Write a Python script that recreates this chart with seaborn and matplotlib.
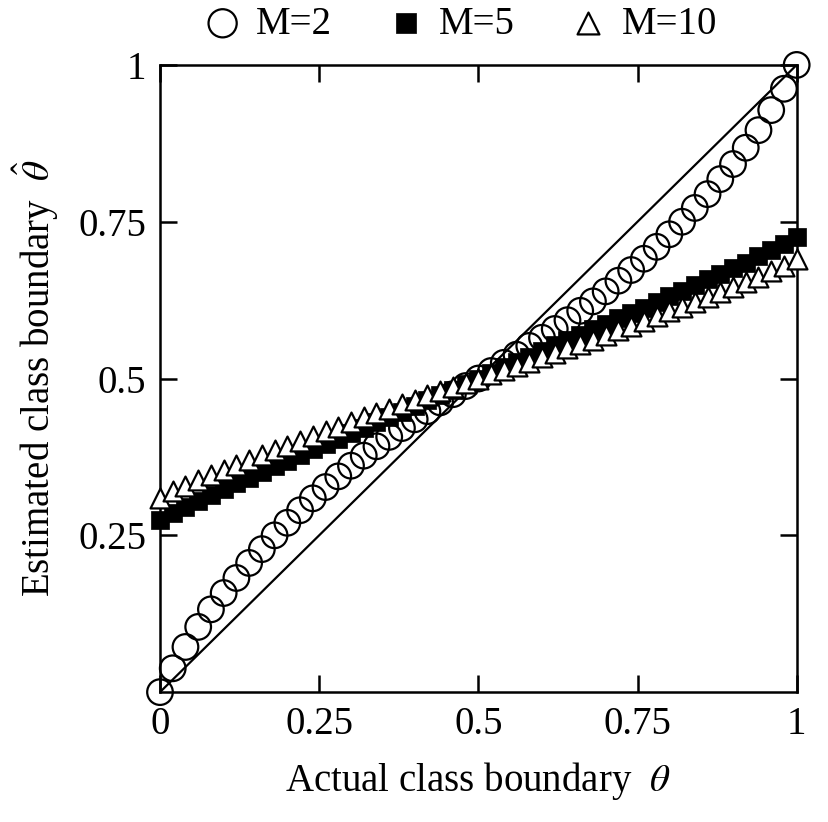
import numpy as np
import pandas as pd
import matplotlib
matplotlib.use("Agg")
import matplotlib.pyplot as plt
import seaborn as sns

# --- data ---
theta = [round(0.02 * i, 2) for i in range(51)]

est_m2 = [0.000, 0.038, 0.072, 0.104, 0.132, 0.158, 0.182, 0.206, 0.228, 0.250,
          0.270, 0.290, 0.309, 0.327, 0.344, 0.361, 0.377, 0.392, 0.407, 0.421,
          0.435, 0.448, 0.462, 0.475, 0.488, 0.500, 0.512, 0.525, 0.538, 0.552,
          0.565, 0.579, 0.593, 0.608, 0.623, 0.639, 0.656, 0.673, 0.691, 0.710,
          0.730, 0.750, 0.772, 0.794, 0.818, 0.842, 0.868, 0.896, 0.928, 0.962,
          1.000]

est_m5 = [0.274, 0.285, 0.295, 0.305, 0.315, 0.324, 0.333, 0.342, 0.351, 0.360,
          0.369, 0.378, 0.387, 0.395, 0.404, 0.413, 0.421, 0.430, 0.439, 0.447,
          0.456, 0.465, 0.474, 0.482, 0.491, 0.500, 0.509, 0.518, 0.526, 0.535,
          0.544, 0.553, 0.561, 0.570, 0.579, 0.587, 0.596, 0.605, 0.613, 0.622,
          0.631, 0.640, 0.649, 0.658, 0.667, 0.676, 0.685, 0.695, 0.705, 0.715,
          0.726]

est_m10 = [0.310, 0.320, 0.329, 0.338, 0.346, 0.354, 0.362, 0.370, 0.378, 0.386,
           0.393, 0.401, 0.408, 0.416, 0.423, 0.431, 0.438, 0.445, 0.452, 0.459,
           0.466, 0.473, 0.480, 0.486, 0.493, 0.500, 0.507, 0.514, 0.520, 0.527,
           0.534, 0.541, 0.548, 0.555, 0.562, 0.569, 0.577, 0.584, 0.592, 0.599,
           0.607, 0.614, 0.622, 0.630, 0.638, 0.646, 0.654, 0.662, 0.671, 0.680,
           0.690]

series_labels = ["M=2", "M=5", "M=10"]
x_ticks = [0, 0.25, 0.5, 0.75, 1]
x_ticklabels = ["0", "0.25", "0.5", "0.75", "1"]
y_ticks = [0.25, 0.5, 0.75, 1]
y_ticklabels = ["0.25", "0.5", "0.75", "1"]

sns.set_style("ticks")
plt.rcParams["font.family"] = ["Liberation Serif", "DejaVu Serif"]
plt.rcParams["mathtext.fontset"] = "stix"
for key in ["text.color", "axes.labelcolor", "xtick.color", "ytick.color", "axes.edgecolor"]:
    plt.rcParams[key] = "black"

fig = plt.figure(figsize=(8.29, 8.22), dpi=100)
ax = fig.add_axes([0.193, 0.158, 0.768, 0.763])

# reference diagonal
sns.lineplot(x=[0, 1], y=[0, 1], color="black", linewidth=1.6, ax=ax, zorder=1)

sns.scatterplot(x=theta, y=est_m2, marker="o", s=340, facecolors="none",
                edgecolors="black", linewidth=1.6, ax=ax, zorder=3,
                label=series_labels[0], clip_on=False)
sns.scatterplot(x=theta, y=est_m5, marker="s", s=155, color="black",
                edgecolor="black", linewidth=0.5, ax=ax, zorder=4,
                label=series_labels[1], clip_on=False)
sns.scatterplot(x=theta, y=est_m10, marker="^", s=205, facecolors="white",
                edgecolors="black", linewidth=1.6, ax=ax, zorder=5,
                label=series_labels[2], clip_on=False)

ax.set_xlim(0, 1)
ax.set_ylim(0, 1)
ax.set_xticks(x_ticks)
ax.set_xticklabels(x_ticklabels)
ax.set_yticks(y_ticks)
ax.set_yticklabels(y_ticklabels)
ax.tick_params(direction="in", length=12, width=1.8, labelsize=28,
               top=True, right=True, pad=10)

for sp in ax.spines.values():
    sp.set_linewidth(1.8)
    sp.set_zorder(2)

ax.set_xlabel(r"Actual class boundary  $\theta$", fontsize=28, labelpad=12)
ax.set_ylabel(r"Estimated class boundary  $\hat{\theta}$", fontsize=28, labelpad=12)

handles, labels = ax.get_legend_handles_labels()
ax.get_legend().remove()
fig.legend(handles, labels, loc="center", bbox_to_anchor=(460 / 829, 1 - 24 / 822),
           ncol=3, frameon=False, fontsize=28, handletextpad=0.35,
           handlelength=1.0, columnspacing=1.4, markerscale=1.1)

fig.savefig("out.png", dpi=100)
